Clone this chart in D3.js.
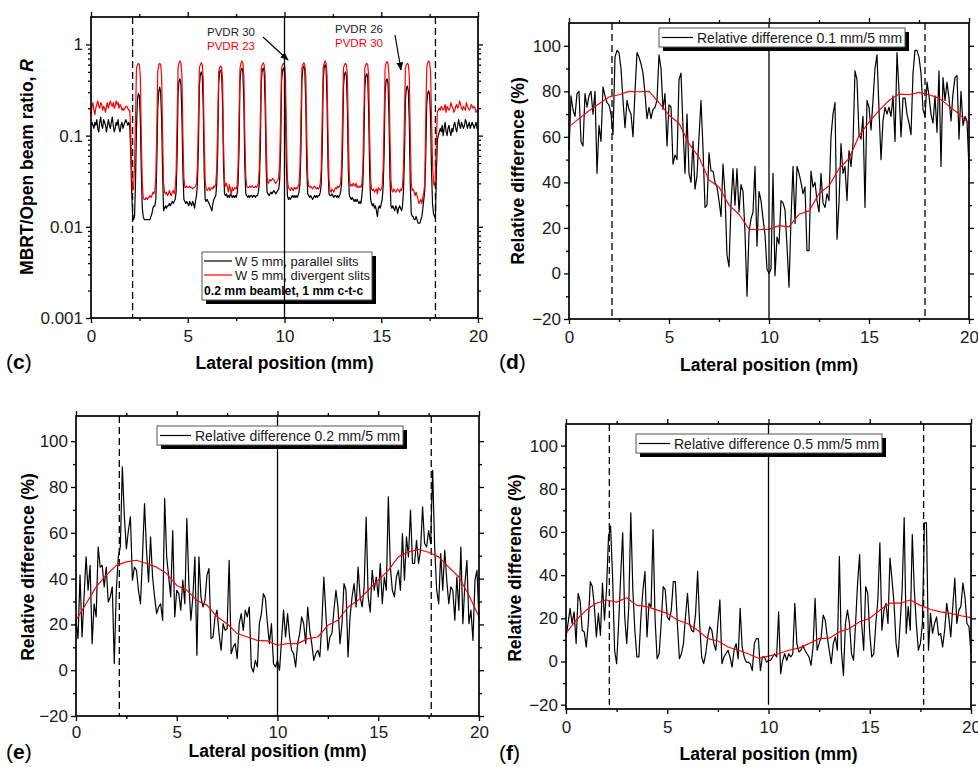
<!DOCTYPE html>
<html><head><meta charset="utf-8">
<script src="https://cdn.jsdelivr.net/npm/d3@7"></script>
<style>
body{margin:0;background:#fff}
svg{display:block}
text{font-family:"Liberation Sans",Arial,Helvetica,sans-serif}
</style>
</head><body>
<svg width="978" height="767"></svg>
<script>
// ---------------- DATA ----------------
// Panel (c): MBRT/Open beam ratio R, lateral position sampled every 0.05 mm (0..20 mm)
const parallelSlits = [
0.13,0.14,0.13,0.12,0.14,0.13,0.15,0.12,0.11,0.14,0.16,0.13,0.12,0.15,0.14,0.13,0.11,0.13,0.15,0.13,
0.12,0.14,0.16,0.13,0.11,0.12,0.14,0.13,0.15,0.12,0.11,0.13,0.14,0.12,0.13,0.14,0.15,0.14,0.13,0.14,
0.13,0.07,0.025,0.014,0.012,0.013,0.03,0.12,0.25,0.29,0.27,0.15,0.04,0.016,0.013,0.012,0.012,0.012,0.012,0.012,
0.012,0.012,0.013,0.014,0.016,0.017,0.017,0.02,0.05,0.2,0.3,0.34,0.3,0.15,0.04,0.015,0.016,0.017,0.016,0.017,
0.017,0.018,0.017,0.018,0.019,0.018,0.019,0.02,0.024,0.06,0.3,0.4,0.42,0.36,0.15,0.04,0.02,0.019,0.018,0.019,
0.018,0.017,0.019,0.018,0.017,0.019,0.018,0.016,0.019,0.022,0.03,0.07,0.35,0.47,0.5,0.45,0.2,0.04,0.02,0.019,
0.02,0.019,0.018,0.017,0.016,0.015,0.018,0.02,0.021,0.022,0.03,0.07,0.38,0.5,0.52,0.48,0.22,0.045,0.023,0.022,
0.023,0.021,0.022,0.021,0.023,0.022,0.021,0.022,0.021,0.022,0.021,0.023,0.03,0.07,0.4,0.52,0.55,0.5,0.22,0.045,
0.023,0.022,0.021,0.022,0.021,0.022,0.022,0.021,0.022,0.022,0.021,0.022,0.022,0.024,0.03,0.07,0.4,0.52,0.55,0.5,
0.22,0.045,0.024,0.023,0.022,0.023,0.024,0.023,0.024,0.025,0.024,0.023,0.024,0.025,0.026,0.032,0.07,0.4,0.52,0.55,
0.5,0.22,0.045,0.022,0.02,0.021,0.02,0.021,0.022,0.021,0.022,0.021,0.022,0.021,0.022,0.024,0.03,0.07,0.4,0.55,
0.58,0.52,0.22,0.045,0.023,0.022,0.021,0.022,0.021,0.02,0.021,0.022,0.021,0.022,0.021,0.022,0.022,0.024,0.03,0.07,
0.4,0.56,0.6,0.55,0.22,0.045,0.023,0.022,0.022,0.023,0.022,0.021,0.022,0.022,0.021,0.022,0.021,0.022,0.024,0.03,
0.07,0.35,0.47,0.5,0.45,0.2,0.04,0.022,0.021,0.02,0.021,0.02,0.019,0.02,0.019,0.02,0.019,0.018,0.019,0.018,
0.022,0.03,0.07,0.33,0.45,0.48,0.43,0.18,0.04,0.02,0.018,0.017,0.018,0.016,0.017,0.015,0.013,0.016,0.017,0.016,
0.018,0.02,0.028,0.065,0.3,0.4,0.42,0.37,0.16,0.035,0.017,0.016,0.017,0.016,0.015,0.017,0.016,0.014,0.016,0.017,
0.016,0.015,0.017,0.025,0.06,0.25,0.33,0.35,0.31,0.14,0.03,0.014,0.013,0.013,0.012,0.012,0.013,0.012,0.011,0.011,
0.011,0.012,0.013,0.016,0.02,0.025,0.06,0.22,0.29,0.31,0.28,0.15,0.04,0.018,0.014,0.013,0.0125,0.04,0.09,0.1,
0.11,0.12,0.11,0.13,0.1,0.12,0.14,0.11,0.1,0.12,0.13,0.11,0.1,0.12,0.11,0.13,0.14,0.12,0.11,0.13,
0.15,0.13,0.12,0.14,0.13,0.12,0.13,0.15,0.14,0.12,0.13,0.14,0.12,0.13,0.14,0.13,0.12,0.13,0.14,0.12,
0.12];
const divergentSlits = [
0.17,0.21,0.23,0.19,0.17,0.2,0.22,0.24,0.21,0.2,0.23,0.22,0.19,0.21,0.2,0.18,0.21,0.23,0.2,0.22,
0.24,0.22,0.21,0.23,0.2,0.21,0.24,0.22,0.23,0.2,0.22,0.21,0.19,0.2,0.19,0.2,0.21,0.21,0.2,0.19,
0.19,0.12,0.04,0.025,0.026,0.05,0.15,0.55,0.6,0.62,0.6,0.45,0.1,0.03,0.021,0.02,0.02,0.021,0.02,0.021,
0.021,0.022,0.021,0.022,0.024,0.023,0.025,0.035,0.12,0.5,0.6,0.62,0.6,0.45,0.1,0.03,0.024,0.023,0.024,0.022,
0.023,0.025,0.023,0.022,0.024,0.025,0.023,0.026,0.04,0.15,0.55,0.63,0.66,0.62,0.45,0.1,0.035,0.027,0.027,0.028,
0.027,0.027,0.028,0.027,0.027,0.026,0.027,0.027,0.028,0.03,0.045,0.15,0.55,0.6,0.63,0.6,0.42,0.09,0.032,0.026,
0.025,0.026,0.027,0.025,0.026,0.027,0.026,0.028,0.027,0.03,0.045,0.15,0.5,0.56,0.58,0.56,0.4,0.08,0.032,0.028,
0.03,0.027,0.024,0.029,0.026,0.023,0.027,0.025,0.026,0.027,0.026,0.028,0.045,0.16,0.55,0.62,0.66,0.62,0.45,0.1,
0.035,0.028,0.027,0.027,0.028,0.027,0.028,0.028,0.027,0.027,0.028,0.027,0.028,0.03,0.045,0.15,0.55,0.6,0.63,0.6,
0.45,0.1,0.035,0.03,0.031,0.033,0.032,0.033,0.034,0.033,0.031,0.03,0.031,0.032,0.035,0.05,0.16,0.55,0.6,0.62,
0.6,0.45,0.1,0.033,0.027,0.026,0.025,0.027,0.026,0.025,0.027,0.026,0.027,0.026,0.028,0.03,0.045,0.16,0.55,0.6,
0.63,0.6,0.45,0.1,0.035,0.028,0.027,0.028,0.027,0.026,0.027,0.028,0.027,0.026,0.027,0.026,0.027,0.03,0.045,0.16,
0.55,0.62,0.66,0.62,0.45,0.1,0.033,0.025,0.024,0.026,0.025,0.024,0.026,0.027,0.026,0.028,0.027,0.028,0.03,0.045,
0.16,0.55,0.6,0.62,0.6,0.45,0.1,0.035,0.028,0.029,0.028,0.03,0.029,0.028,0.03,0.027,0.028,0.027,0.028,0.027,
0.03,0.045,0.16,0.55,0.6,0.62,0.6,0.45,0.1,0.033,0.026,0.025,0.026,0.024,0.025,0.026,0.023,0.027,0.026,0.025,
0.026,0.028,0.045,0.16,0.55,0.62,0.65,0.62,0.45,0.1,0.033,0.025,0.024,0.026,0.025,0.024,0.025,0.026,0.025,0.024,
0.026,0.025,0.028,0.045,0.16,0.55,0.6,0.62,0.6,0.45,0.1,0.03,0.025,0.026,0.024,0.022,0.024,0.022,0.02,0.018,
0.019,0.02,0.018,0.021,0.024,0.03,0.16,0.55,0.63,0.66,0.63,0.5,0.15,0.05,0.03,0.028,0.035,0.09,0.18,0.19,
0.2,0.19,0.21,0.2,0.19,0.2,0.22,0.18,0.21,0.2,0.19,0.2,0.23,0.21,0.2,0.18,0.19,0.21,0.22,0.2,
0.21,0.24,0.22,0.2,0.19,0.21,0.2,0.19,0.23,0.21,0.2,0.19,0.2,0.22,0.21,0.2,0.21,0.2,0.18,0.19,
0.18];

// Panels (d)-(f): relative difference (%), sampled every 0.1 mm
const relDiff01 = [
54,78,72,69,79,80,58,56,79,73, 78,80,70,80,44,65,58,82,78,75,
74,70,61,95,98,97,90,76,64,76, 72,70,60,80,97,95,92,88,79,68,
73,68,72,73,76,96,90,72,79,56, 74,73,48,52,50,85,88,64,44,70,
44,40,58,37,43,60,76,55,29,30, 53,45,45,40,38,32,25,48,35,8,
3,30,46,30,46,27,39,36,18,-10, 18,24,27,47,12,36,32,24,17,2,
0,2,44,-1,16,13,32,31,28,12, -6,24,47,22,47,44,40,35,38,10,
10,45,38,40,32,27,44,31,29,35, 32,60,70,75,15,31,57,44,47,32,
54,47,57,89,85,61,59,69,29,76, 73,63,76,90,96,72,50,67,73,70,
73,69,78,58,97,80,60,77,77,70, 66,61,88,98,98,95,88,72,69,84,
78,70,66,78,62,89,47,86,76,84, 77,67,79,86,87,59,80,65,69,67,
46];
const relDiff02 = [
21.8,13.8,41.5,14.5,32,49.5,34.9,45.8,11.6,29,
23.3,53.8,45,45.8,36.4,45,29.8,32,36.4,2.9,
34.9,49.5,53.8,88.8,67,53,61,67,39.3,45,
43.6,34.9,29,49.5,72.8,52.4,38.5,58.2,40.7,32,
24.7,27.6,29,21.8,75,49.5,40.7,32,61,23.3,
34.9,33.5,26.2,39.3,29,66.2,37.8,21.8,32,49.5,
6.5,49.5,32,27.6,30.5,41.5,44.4,13.8,14.5,23.3,
26.2,16,8.7,20.3,17.4,18.1,48,7.2,10.1,11.6,
5,20.3,24.7,17.4,26.2,23.3,27.6,1.4,-0.8,4.3,
1.4,20.3,24.7,33.5,31.3,20.3,11.6,20.3,2.9,1.4,
4.3,-0.1,13,26.2,14.5,24.7,14.5,8.7,7.2,1.4,
11.6,16,23.3,20.3,11.6,27.6,17.4,11.6,4.3,7.2,
8.7,5.8,20.3,40.7,24.7,8.7,14.5,16,26.2,34.9,
27.6,11.6,20.3,37.8,34.9,5.8,23.3,32,37.8,27.6,
45,32,27.6,36.4,66.9,32,25.4,43.6,34.9,40.7,
32,46.6,29,40.7,34.9,75.7,45,34.9,32,40.7,
43.6,34.9,59.7,39.3,58.2,49.5,69.9,46.6,46.6,56.7,
46.6,52.4,71.3,55.3,53.8,61,55.3,87.3,53.8,34.9,
29,50.9,34.9,52.4,39.3,29,36.4,34.9,21.8,40.7,
26.2,53.8,20.3,37.8,48,20.3,26.2,13,39.3,43.6,
21.8];
const relDiff05 = [
11.4,17.6,24.6,17.6,23,8.3,31.6,27.7,14.5,13.7,
6.7,17.6,37,34.7,25.4,11.4,22.3,12.2,36.3,19.2,
33.2,58,62.7,39.4,5.2,-1,17.6,39.4,59.6,20.7,
8.3,25.4,68.9,33.2,14.5,2.1,2.1,20.7,33.2,41.7,
11.4,26.9,25.4,61.1,19.2,1.3,3.6,17.6,34.7,33.2,
20.7,19.2,23.8,37,37,17.6,1.3,3.6,8.3,20.7,
31.6,17.6,14.5,13.7,22.3,41.7,17.6,2.1,-1,3.6,
11.4,16.1,14.5,8.3,5.2,17.6,28.5,-1,2.1,3.6,
5.2,2.1,-2.6,5.2,8.3,1.3,24.6,6.7,2.1,-0.3,
-0.3,-1,-4.2,8.3,10.6,10.6,-4.2,2.1,2.1,-0.3,
0.5,0.5,2.1,3.6,2.1,23,-5.7,0.5,3.6,0.5,
3.6,2.1,3.6,26.9,8.3,4.4,5.2,7.5,5.2,3.6,
2.1,-1.8,6.7,29.3,5.2,8.3,11.4,21.5,19.2,11.4,
5.2,-1,8.3,11.4,5.2,48.7,5.2,-6.5,17.6,23.8,
17.6,3.6,0.5,17.6,36.3,49.5,17.6,5.2,34.7,31.6,
13,2.1,3.6,17.6,28.5,54.9,14.5,23.8,26.9,17.6,
47.9,37.8,26.9,8.3,2.1,17.6,33.2,66.6,13,25.4,
14.5,58.8,33.2,17.6,5.2,8.3,17.6,64.2,64.2,5.2,
22.3,13,17.6,20.7,12.2,13,6.7,14.5,26.9,20.7,
11.4,25.4,38.6,17.6,23.8,25.4,36.3,30,17.6,16.1,
3.6];

// Smoothed (red) trends, every 0.5 mm
const smooth01 = [64.5,68,71.5,74.5,77.5,78.5,80,79.8,80,75,69.5,66,57,51,41,38,30,26,19.5,19.2,19.5,21,20.5,26,27.5,35,38.5,46,50.5,60.5,66.5,71.5,76,78.8,78.5,79.5,78.5,77,73.5,70,66];
const smooth02 = [21.8,29,36.4,41.5,45.8,47.3,48,46.6,45,42.2,37,35,30.5,28.4,23.3,20.3,16,14.5,13,12.8,10.9,11.6,11.6,13.8,14.5,19.6,21.8,27.6,30.5,34.9,39.3,43.6,49.5,51.7,52.7,51.5,49.5,45,40.7,32.7,23.3];
const smooth05 = [13,19.2,23.8,27,28.5,27.5,29.5,26,25.4,23.8,22.3,19.2,17.6,14.5,10.6,9.5,6.7,5.2,3.6,1.5,2.5,3.6,5.2,6.2,8.3,10.6,10.8,13.7,15.3,18.4,20,23.8,27,27,28.5,26,24.1,23,22.3,21.2,20.3];

const xTicksMajor = [0, 5, 10, 15, 20];
const xTicksMinor = [2.5, 7.5, 12.5, 17.5];
const logTicksMajor = [0.001, 0.01, 0.1, 1];
const linTicksMajor = [-20, 0, 20, 40, 60, 80, 100];
const linTicksMinor = [-10, 10, 30, 50, 70, 90];
const fieldEdges = { c: [2.15, 17.8], d: [2.15, 17.8], e: [2.15, 17.63], f: [2.14, 17.66] };
const centerLine = 10;

// ---------------- DRAWING ----------------
const svg = d3.select("svg");
svg.append("defs").append("marker")
  .attr("id", "arrow").attr("viewBox", "0 0 10 10").attr("refX", 9).attr("refY", 5)
  .attr("markerWidth", 7).attr("markerHeight", 7).attr("orient", "auto")
  .append("path").attr("d", "M0,1 L10,5 L0,9 z").attr("fill", "#000");

function gridX(arr) { const n = arr.length; return arr.map((v, i) => ({x: i * 20 / (n - 1), y: v})); }

function panel(cfg) {
  const x = d3.scaleLinear().domain([0, 20]).range([cfg.left, cfg.right]);
  const y = (cfg.log ? d3.scaleLog() : d3.scaleLinear()).domain(cfg.yDomain).range([cfg.bottom, cfg.top]);
  const g = svg.append("g");
  const plot = g.append("g");

  const yLo = cfg.log ? cfg.yDomain[0] : cfg.lineLow;
  const yHi = cfg.yDomain[1];
  fieldEdges[cfg.id].forEach(e => {
    plot.append("line").attr("x1", x(e)).attr("x2", x(e)).attr("y1", y(yHi)).attr("y2", y(yLo))
      .attr("stroke", "#000").attr("stroke-width", 1.3).attr("stroke-dasharray", "7,4");
  });

  const line = d3.line().x(d => x(d.x)).y(d => y(d.y));
  cfg.series.forEach(s => {
    plot.append("path").datum(s.data).attr("d", line).attr("fill", "none")
      .attr("stroke", s.color).attr("stroke-width", s.width || 1.2).attr("stroke-linejoin", "round");
  });

  const drawCenter = () => plot.append("line").attr("x1", x(centerLine)).attr("x2", x(centerLine))
      .attr("y1", y(yHi)).attr("y2", y(yLo)).attr("stroke", "#000").attr("stroke-width", 1.3);
  if (!cfg.centerOnTop) drawCenter();
  if (cfg.legend) cfg.legend(g);
  if (cfg.centerOnTop) g.append("line").attr("x1", x(centerLine)).attr("x2", x(centerLine))
      .attr("y1", y(yHi)).attr("y2", y(yLo)).attr("stroke", "#000").attr("stroke-width", 1.3);

  const fmt = cfg.log ? (d => String(d)) : d3.format("d");
  const yMajor = cfg.log ? logTicksMajor : linTicksMajor;
  let yMinor;
  if (cfg.log) {
    yMinor = [];
    [0.001, 0.01, 0.1].forEach(dec => { for (let k = 2; k <= 9; k++) yMinor.push(+(dec * k).toPrecision(3)); });
  } else yMinor = linTicksMinor;

  const styleAxis = sel => {
    sel.select(".domain").remove();
    sel.selectAll(".tick line").attr("stroke", "#000").attr("stroke-width", 1.3);
    sel.selectAll(".tick text").attr("font-size", 17).attr("fill", "#1a1a1a")
      .style("font-family", '"Liberation Sans",Arial,sans-serif');
  };
  g.append("g").attr("transform", `translate(0,${cfg.bottom})`)
    .call(d3.axisBottom(x).tickValues(xTicksMajor).tickSize(5).tickPadding(cfg.xPad).tickFormat(d3.format("d"))).call(styleAxis);
  g.append("g").attr("transform", `translate(0,${cfg.bottom})`)
    .call(d3.axisBottom(x).tickValues(xTicksMinor).tickSize(3).tickFormat("")).call(styleAxis);
  g.append("g").attr("transform", `translate(0,${cfg.top})`)
    .call(d3.axisTop(x).tickValues(xTicksMajor).tickSize(5).tickFormat("")).call(styleAxis);
  g.append("g").attr("transform", `translate(0,${cfg.top})`)
    .call(d3.axisTop(x).tickValues(xTicksMinor).tickSize(3).tickFormat("")).call(styleAxis);
  g.append("g").attr("transform", `translate(${cfg.left},0)`)
    .call(d3.axisLeft(y).tickValues(yMajor).tickSize(5).tickPadding(3).tickFormat(fmt)).call(styleAxis);
  g.append("g").attr("transform", `translate(${cfg.left},0)`)
    .call(d3.axisLeft(y).tickValues(yMinor).tickSize(3).tickFormat("")).call(styleAxis);
  g.append("g").attr("transform", `translate(${cfg.right},0)`)
    .call(d3.axisRight(y).tickValues(yMajor).tickSize(5).tickFormat("")).call(styleAxis);
  g.append("g").attr("transform", `translate(${cfg.right},0)`)
    .call(d3.axisRight(y).tickValues(yMinor).tickSize(3).tickFormat("")).call(styleAxis);

  g.append("rect").attr("x", cfg.left).attr("y", cfg.top).attr("width", cfg.right - cfg.left)
    .attr("height", cfg.bottom - cfg.top).attr("fill", "none").attr("stroke", "#000").attr("stroke-width", 1.7);

  g.append("text").attr("x", (cfg.left + cfg.right) / 2).attr("y", cfg.xTitleY).attr("text-anchor", "middle")
    .attr("font-size", 17.5).attr("font-weight", "bold").text("Lateral position (mm)");
  const yt = g.append("text").attr("transform", `translate(${cfg.yTitleX},${cfg.yTitleY}) rotate(-90)`)
    .attr("text-anchor", "middle").attr("font-size", 17.5).attr("font-weight", "bold");
  if (cfg.log) {
    yt.append("tspan").text("MBRT/Open beam ratio, ");
    yt.append("tspan").attr("font-style", "italic").text("R");
  } else yt.text("Relative difference (%)");

  const pl = g.append("text").attr("x", cfg.labelX).attr("y", cfg.labelY).attr("font-size", 21);
  pl.append("tspan").text("(");
  pl.append("tspan").attr("font-weight", "bold").text(cfg.id);
  pl.append("tspan").text(")");
  return {x, y, g};
}

function boxLegend(g, bx, by, bw, bh) {
  g.append("rect").attr("x", bx + 4).attr("y", by + 4).attr("width", bw).attr("height", bh).attr("fill", "#000");
  g.append("rect").attr("x", bx).attr("y", by).attr("width", bw).attr("height", bh)
    .attr("fill", "#fff").attr("stroke", "#555").attr("stroke-width", 1);
}
function singleLegend(label, bx, by) {
  return g => {
    boxLegend(g, bx, by, 246, 19);
    g.append("line").attr("x1", bx + 3).attr("x2", bx + 34).attr("y1", by + 9.5).attr("y2", by + 9.5)
      .attr("stroke", "#000").attr("stroke-width", 1.2);
    g.append("text").attr("x", bx + 38).attr("y", by + 15).attr("font-size", 14).attr("fill", "#1a1a1a").text(label);
  };
}

// (c)
const pc = panel({
  id: "c", left: 91, right: 478, top: 17, bottom: 318, log: true, yDomain: [0.001, 2],
  xPad: 7, xTitleY: 369, yTitleX: 33, yTitleY: 167, labelX: 6, labelY: 369, centerOnTop: true,
  series: [
    {data: gridX(parallelSlits), color: "#000"},
    {data: gridX(divergentSlits), color: "#ff0000"}
  ],
  legend: g => {
    const bx = 202, by = 252;
    boxLegend(g, bx, by, 170, 48);
    g.append("line").attr("x1", bx + 2).attr("x2", bx + 30).attr("y1", by + 9).attr("y2", by + 9).attr("stroke", "#000").attr("stroke-width", 1.2);
    g.append("line").attr("x1", bx + 2).attr("x2", bx + 30).attr("y1", by + 23).attr("y2", by + 23).attr("stroke", "#ff0000").attr("stroke-width", 1.2);
    g.append("text").attr("x", bx + 33).attr("y", by + 13.5).attr("font-size", 13).attr("fill", "#1a1a1a").text("W 5 mm, parallel slits");
    g.append("text").attr("x", bx + 33).attr("y", by + 27.5).attr("font-size", 13).attr("fill", "#1a1a1a").text("W 5 mm, divergent slits");
    g.append("text").attr("x", bx + 2).attr("y", by + 43).attr("font-size", 12.2).attr("font-weight", "bold").text("0.2 mm beamlet, 1 mm c-t-c");
  }
});
const ann = pc.g.append("g").attr("font-size", 11.5);
ann.append("text").attr("x", 207).attr("y", 36).attr("fill", "#222").text("PVDR 30");
ann.append("text").attr("x", 207).attr("y", 50).attr("fill", "#ff0000").text("PVDR 23");
ann.append("text").attr("x", 335).attr("y", 32.5).attr("fill", "#222").text("PVDR 26");
ann.append("text").attr("x", 335).attr("y", 46.5).attr("fill", "#ff0000").text("PVDR 30");
ann.append("line").attr("x1", 263).attr("y1", 37).attr("x2", 288).attr("y2", 60).attr("stroke", "#000").attr("stroke-width", 1.2).attr("marker-end", "url(#arrow)");
ann.append("line").attr("x1", 395).attr("y1", 35).attr("x2", 401).attr("y2", 70).attr("stroke", "#000").attr("stroke-width", 1.2).attr("marker-end", "url(#arrow)");

// (d)
panel({
  id: "d", left: 569, right: 969, top: 23, bottom: 319, yDomain: [-20, 110], lineLow: -20,
  xPad: 7, xTitleY: 371, yTitleX: 524, yTitleY: 171, labelX: 499, labelY: 369,
  series: [
    {data: gridX(relDiff01), color: "#000"},
    {data: gridX(smooth01), color: "#ff0000"}
  ],
  legend: singleLegend("Relative difference 0.1 mm/5 mm", 659, 28)
});
// (e)
panel({
  id: "e", left: 76, right: 479, top: 416, bottom: 716, yDomain: [-20, 111], lineLow: -20,
  xPad: 5, xTitleY: 757, yTitleX: 34, yTitleY: 567, labelX: 6, labelY: 759,
  series: [
    {data: gridX(relDiff02), color: "#000"},
    {data: gridX(smooth02), color: "#ff0000"}
  ],
  legend: singleLegend("Relative difference 0.2 mm/5 mm", 157, 426)
});
// (f)
panel({
  id: "f", left: 566, right: 971, top: 424, bottom: 709, yDomain: [-22, 110], lineLow: -20,
  xPad: 7, xTitleY: 760, yTitleX: 521, yTitleY: 568, labelX: 499, labelY: 760,
  series: [
    {data: gridX(relDiff05), color: "#000"},
    {data: gridX(smooth05), color: "#ff0000"}
  ],
  legend: singleLegend("Relative difference 0.5 mm/5 mm", 636, 434)
});
</script>
</body></html>
